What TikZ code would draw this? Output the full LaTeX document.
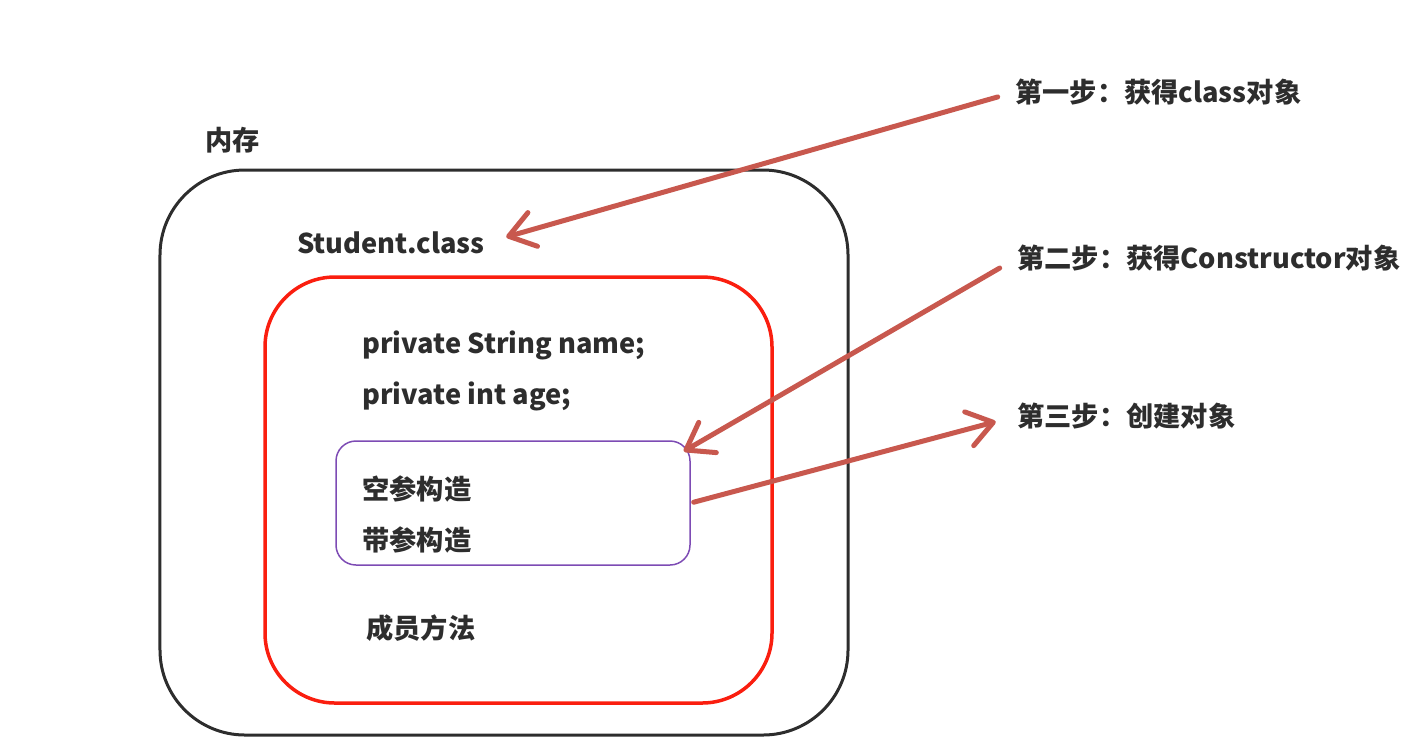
\documentclass[tikz,border=0pt]{standalone}
\usepackage{fontspec}
\setmainfont{Noto Sans CJK SC}
\usepackage{xcolor}
\usepackage{tikz}
\usetikzlibrary{arrows.meta}

\definecolor{inkgray}{RGB}{45,45,45}
\definecolor{boxred}{RGB}{250,30,15}
\definecolor{boxpurple}{RGB}{125,75,180}
\definecolor{arrowred}{RGB}{200,88,78}

\tikzset{
	txt/.style={anchor=west,inner sep=0pt,text=inkgray,font=\fontsize{15.5pt}{18pt}\selectfont\bfseries},
	stepline/.style={arrowred,line width=1mm,line cap=round,
		-{Straight Barb[length=5mm,width=7mm,line width=1mm,round]}}
}

\begin{document}
\begin{tikzpicture}[x=0.2mm,y=-0.2mm]
			\useasboundingbox (0,0) rectangle (1421,748);
			% boxes
			\node[draw=inkgray,line width=0.6mm,rounded corners=17mm,
				minimum width=137.6mm,minimum height=113mm] (mem) at (504,452.5) {};
			\node[draw=boxred,line width=0.7mm,rounded corners=14mm,
				minimum width=101.4mm,minimum height=85.2mm] (cls) at (518.5,490) {};
			\node[draw=boxpurple,line width=0.3mm,rounded corners=4mm,
				minimum width=70.8mm,minimum height=24.8mm] (ctor) at (513,503) {};
			%
			\node[txt] (memlbl) at (205,140) {内存};
			\node[txt] (sc) at (297,243) {Student.class};
			\node[txt] (fname) at (362,345) {private String name;};
			\node[txt] (fage) at (362,396) {private int age;};
			\node[txt] (empty) at (362,489) {空参构造};
			\node[txt] (full) at (362,540) {带参构造};
			\node[txt] (meth) at (366,628) {成员方法};
			%
			\node[txt] (s1) at (1015,92) {第一步：获得class对象};
			\node[txt] (s2) at (1017,258) {第二步：获得Constructor对象};
			\node[txt] (s3) at (1017,416) {第三步：创建对象};
			%
			\path[stepline]
				(s1.west) edge[shorten <=3.6mm,shorten >=4.4mm] (sc.east)
				(s2.west) edge[shorten <=4mm] ([shift={(-7,11)}]ctor.north east)
				(ctor.east) edge[shorten <=0.6mm,shorten >=4.4mm] (s3.west);
		\end{tikzpicture}
\end{document}
